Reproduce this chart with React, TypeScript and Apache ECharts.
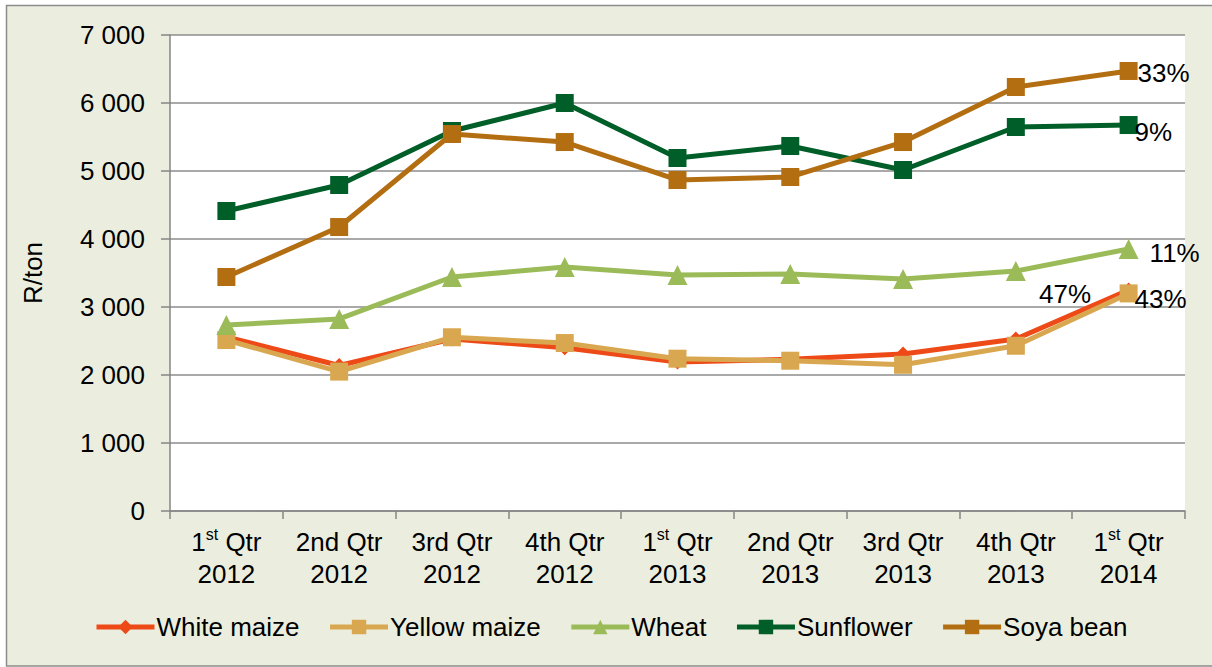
import React, { useEffect, useRef } from "react";
import * as echarts from "echarts";

const categories = [
  "1st Qtr\n2012",
  "2nd Qtr\n2012",
  "3rd Qtr\n2012",
  "4th Qtr\n2012",
  "1st Qtr\n2013",
  "2nd Qtr\n2013",
  "3rd Qtr\n2013",
  "4th Qtr\n2013",
  "1st Qtr\n2014",
];

const whiteMaize = [2560, 2140, 2530, 2400, 2190, 2230, 2310, 2530, 3250];
const yellowMaize = [2515, 2050, 2555, 2470, 2240, 2210, 2150, 2430, 3200];
const wheat = [2735, 2824, 3441, 3588, 3471, 3485, 3412, 3529, 3853];
const sunflower = [4412, 4794, 5588, 6000, 5191, 5368, 5015, 5647, 5676];
const soyaBean = [3441, 4176, 5544, 5426, 4868, 4912, 5426, 6235, 6471];

const changeLabels = ["47%", "43%", "11%", "9%", "33%"];
const seriesNames = ["White maize", "Yellow maize", "Wheat", "Sunflower", "Soya bean"];

const yTicks = [0, 1000, 2000, 3000, 4000, 5000, 6000, 7000];

const FONT = "'Liberation Sans', Arial, sans-serif";

export default function App() {
  const ref = useRef<HTMLDivElement>(null);

  useEffect(() => {
    if (!ref.current) return;
    const chart = echarts.init(ref.current, undefined, { renderer: "svg" });

    const styles = [
      { color: "#EE4A18", symbol: "diamond", size: 15, labelPos: "left", dist: 30, off: [0, 4] },
      { color: "#D9A74F", symbol: "rect", size: 18, labelPos: "right", dist: -3, off: [0, 6] },
      { color: "#9BBB59", symbol: "triangle", size: 20, labelPos: "right", dist: 11, off: [0, 4] },
      { color: "#005E28", symbol: "rect", size: 18, labelPos: "right", dist: -3, off: [0, 7] },
      { color: "#B36E12", symbol: "rect", size: 18, labelPos: "right", dist: 0, off: [0, 2] },
    ];
    const values = [whiteMaize, yellowMaize, wheat, sunflower, soyaBean];

    const series = values.map((vals, si) => {
      const st = styles[si];
      return {
        name: seriesNames[si],
        type: "line",
        data: vals.map((v, i) =>
          i === vals.length - 1
            ? {
                value: v,
                label: {
                  show: true,
                  formatter: changeLabels[si],
                  position: st.labelPos,
                  distance: st.dist,
                  offset: st.off,
                  color: "#000",
                  fontSize: 26,
                  fontFamily: FONT,
                },
              }
            : v
        ),
        symbol: st.symbol,
        symbolSize: st.size,
        lineStyle: { color: st.color, width: 5 },
        itemStyle: { color: st.color },
        z: 2 + si,
      };
    });

    const formatCat = (s: string) => {
      const [l1, l2] = s.split("\n");
      let first: string;
      if (l1.startsWith("1st")) {
        first = "{n|1}{sup|st}{n| Qtr}";
      } else {
        first = "{n|" + l1 + "}";
      }
      return first + "\n{n|" + l2 + "}";
    };

    chart.setOption({
      animation: false,
      backgroundColor: "#ffffff",
      textStyle: { fontFamily: FONT },
      graphic: [
        {
          type: "rect",
          shape: { x: 6.5, y: 5.5, width: 1240, height: 660.5 },
          style: { fill: "#EBEEDF", stroke: "#8C8C8C", lineWidth: 1.5 },
          z: -10,
          silent: true,
        },
      ],
      grid: {
        left: 170,
        right: 27,
        top: 35,
        bottom: 156,
        show: true,
        backgroundColor: "#ffffff",
        borderWidth: 0,
      },
      legend: {
        bottom: 22,
        left: 89,
        itemWidth: 58,
        itemHeight: 18,
        itemGap: 28,
        lineStyle: { width: 5 },
        textStyle: { fontSize: 26, color: "#000", fontFamily: FONT, padding: [0, 0, 0, -3] },
        data: seriesNames,
      },
      xAxis: {
        type: "category",
        data: categories,
        boundaryGap: true,
        axisLine: { lineStyle: { color: "#868686", width: 1.5 } },
        axisTick: { show: true, length: 8, lineStyle: { color: "#868686", width: 1.5 } },
        axisLabel: {
          interval: 0,
          margin: 15,
          formatter: formatCat,
          rich: {
            n: { fontSize: 26, color: "#000", fontFamily: FONT, lineHeight: 32 },
            sup: { fontSize: 16, color: "#000", fontFamily: FONT, lineHeight: 32, verticalAlign: "top", padding: [0, 0, 10, 0] },
          },
        },
      },
      yAxis: {
        type: "value",
        min: yTicks[0],
        max: yTicks[yTicks.length - 1],
        interval: 1000,
        name: "R/ton",
        nameLocation: "middle",
        nameGap: 124,
        nameTextStyle: { fontSize: 26, color: "#000", fontFamily: FONT },
        axisLine: { show: true, lineStyle: { color: "#868686", width: 1.5 } },
        axisTick: { show: true, length: 9, lineStyle: { color: "#868686", width: 1.5 } },
        axisLabel: {
          margin: 25,
          fontSize: 26,
          color: "#000",
          fontFamily: FONT,
          formatter: (v: number) => String(v).replace(/\B(?=(\d{3})+(?!\d))/g, " "),
        },
        splitLine: { lineStyle: { color: "#8C8C8C", width: 1.5 } },
      },
      series,
    });

    return () => chart.dispose();
  }, []);

  return (
    <div
      ref={ref}
      style={{ position: "absolute", left: 0, top: 0, width: 1212, height: 667 }}
    />
  );
}
